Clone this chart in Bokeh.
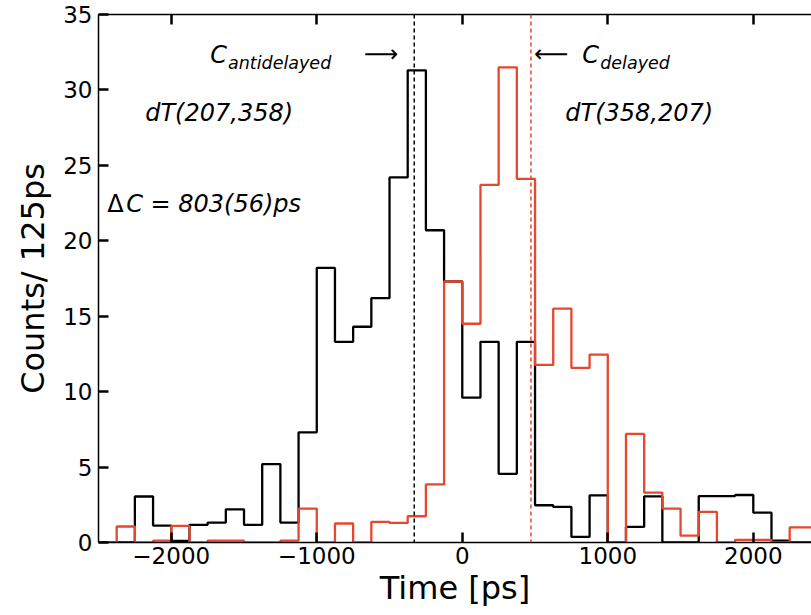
from bokeh.plotting import figure
from bokeh.models import Span, Label, LinearAxis, FixedTicker, Range1d
from bokeh.embed import file_html
from bokeh.resources import INLINE

# ---- data ----
bin_edges = [-2500 + 125 * i for i in range(41)]  # 125 ps bins
antidelayed = [0, 0, 3.05, 1.12, 0.1, 1.17, 1.32, 2.2, 1.17, 5.2,
               1.32, 7.3, 18.2, 13.3, 14.3, 16.2, 24.2, 31.3, 20.7, 17.3,
               9.6, 13.3, 4.55, 13.3, 2.47, 2.36, 0.37, 3.13, 0, 1.04,
               3.06, 0, 0, 3.08, 3.08, 3.15, 1.98, 0.12, 0, 0]
delayed = [0, 1.06, 0, 0.12, 1.1, 0, 0.12, 0.12, 0, 0,
           0.12, 2.25, 0, 1.26, 0, 1.37, 1.3, 1.74, 3.85, 17.3,
           14.5, 23.7, 31.5, 24.1, 11.77, 15.5, 11.57, 12.46, 0, 7.2,
           3.3, 2.25, 0.45, 2.03, 0, 0.18, 0.18, 0, 1.0, 1.0]
c_antidelayed = -330
c_delayed = 472
x_ticks = [-2000, -1000, 0, 1000, 2000]
y_ticks = [0, 5, 10, 15, 20, 25, 30, 35]

RED = "#e8472f"
FONT = "DejaVu Sans"

p = figure(width=811, height=615, output_backend="svg", toolbar_location=None,
           x_range=Range1d(-2500, 2400), y_range=Range1d(0, 35),
           min_border_left=98, min_border_right=0, min_border_top=14,
           min_border_bottom=73)
p.outline_line_color = None
p.xgrid.visible = False
p.ygrid.visible = False
p.background_fill_color = "white"
p.border_fill_color = "white"

def style_axis(ax, label_size="23px"):
    ax.major_tick_in = 10
    ax.major_tick_out = 0
    ax.minor_tick_in = 0
    ax.minor_tick_out = 0
    ax.major_tick_line_width = 2.5
    ax.major_tick_line_color = "black"
    ax.axis_line_width = 1.5
    ax.axis_line_color = "black"
    ax.major_label_text_font = FONT
    ax.major_label_text_font_size = label_size
    ax.major_label_text_color = "black"
    ax.axis_label_text_font = FONT
    ax.axis_label_text_font_size = "32px"
    ax.axis_label_text_font_style = "normal"
    ax.axis_label_text_color = "black"

xa = p.xaxis[0]
xa.ticker = FixedTicker(ticks=x_ticks)
xa.major_label_overrides = {t: (str(t).replace("-", "\u2212")) for t in x_ticks}
style_axis(xa)
xa.major_label_standoff = 4
xa.axis_label = "Time [ps]"
xa.axis_label_standoff = 2

ya = p.yaxis[0]
ya.ticker = FixedTicker(ticks=y_ticks)
style_axis(ya)
ya.major_label_standoff = 6
ya.axis_label = "Counts/ 125ps"
ya.axis_label_standoff = 8

# top frame edge with inward ticks, no labels
top = LinearAxis(ticker=FixedTicker(ticks=x_ticks))
style_axis(top)
top.major_label_text_font_size = "1px"
top.major_label_text_alpha = 0
top.major_label_overrides = {t: "" for t in x_ticks}
top.major_label_standoff = 0
p.add_layout(top, "above")

# histograms (step)
p.step(x=bin_edges, y=antidelayed + [0], mode="after", line_color="black", line_width=2.3)
p.step(x=bin_edges, y=delayed + [0], mode="after", line_color=RED, line_width=2.3)

# centroid lines
p.add_layout(Span(location=c_antidelayed, dimension="height", line_color="black",
                  line_dash="4 3", line_width=1.5))
p.add_layout(Span(location=c_delayed, dimension="height", line_color=RED,
                  line_dash="4 3", line_width=1.5))

def lab(x, y, text, size="24px", style="italic", align="left", baseline="middle"):
    p.add_layout(Label(x=x, y=y, text=text, text_font=FONT, text_font_size=size,
                       text_font_style=style, text_align=align,
                       text_baseline=baseline, text_color="black"))

lab(-1732, 32.3, "C")
lab(-1610, 31.8, "antidelayed", size="17.5px")
lab(-557, 32.4, "\u27f6", style="normal", align="center")
lab(612, 32.4, "\u27f5", style="normal", align="center")
lab(825, 32.3, "C")
lab(948, 31.8, "delayed", size="17.5px")
lab(-2179, 28.45, "dT(207,358)")
lab(708, 28.45, "dT(358,207)")
lab(-2440, 22.44, "\u0394", style="normal")
lab(-2310, 22.44, "C = 803(56)ps")

open("out.html", "w").write(file_html(p, INLINE))
